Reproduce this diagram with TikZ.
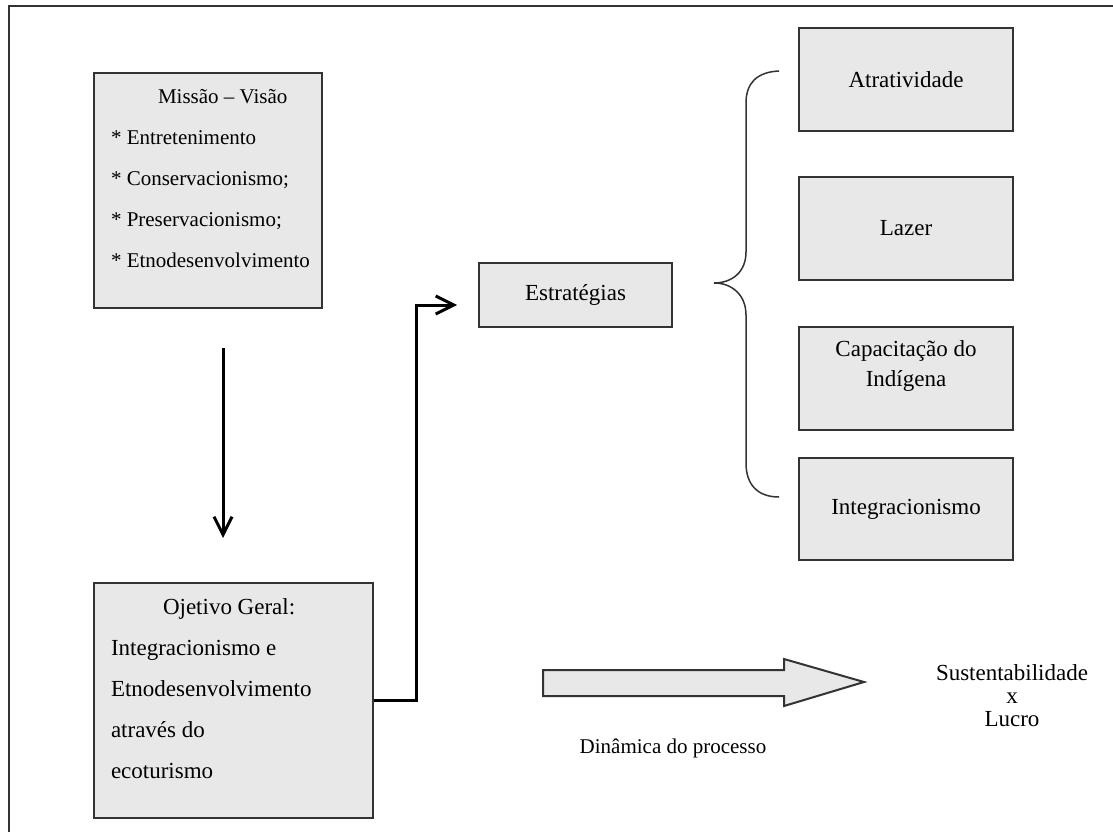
\documentclass[tikz,border=0pt]{standalone}
\usepackage{fontspec}
\setmainfont{Liberation Serif}
\usetikzlibrary{arrows.meta}
\definecolor{boxgray}{HTML}{E8E8E8}
\definecolor{edgegray}{HTML}{333333}
\tikzset{
  box/.style={draw=edgegray, line width=2pt, fill=boxgray, inner sep=0pt,
    font=\fontsize{23}{28}\selectfont},
  link/.style={line width=3pt, -{Straight Barb[length=18pt,width=18pt]}},
}
\begin{document}
\begin{tikzpicture}[x=1pt,y=-1pt]
  \useasboundingbox (0,0) rectangle (1113,832);
  % frame
  \draw[edgegray, line width=2pt] (9,832) -- (9,6) -- (1113,6);
  % left column
  \node[box, inner xsep=17pt, inner ysep=16pt] (missao) at (208,190.5)
    {\parbox[c][203pt][t]{194pt}{\raggedright\fontsize{21}{41}\selectfont
      \hspace*{47pt}Missão – Visão\\
      \mbox{* Entretenimento}\\
      \mbox{* Conservacionismo;}\\
      \mbox{* Preservacionismo;}\\
      \mbox{* Etnodesenvolvimento}}};
  \node[box, inner xsep=17pt, inner ysep=16pt] (ojetivo) at (233.5,700.5)
    {\parbox[c][203pt][t]{245pt}{\raggedright\fontsize{23}{41}\selectfont
      \hspace*{52pt}Ojetivo Geral:\\
      Integracionismo e\\
      Etnodesenvolvimento\\
      através do\\
      ecoturismo}};
  % middle
  \node[box, minimum width=193pt, minimum height=64pt] (estrategias) at (575.5,295) {Estratégias};
  % right column
  \node[box, minimum width=214pt, minimum height=103pt] (atrat) at (906,79.5) {Atratividade};
  \node[box, minimum width=214pt, minimum height=103pt] (lazer) at (906,228.5) {Lazer};
  \node[box, inner xsep=17pt, inner ysep=14pt] (capac) at (906,378.5)
    {\parbox[c][75pt][t]{180pt}{\centering\fontsize{23}{30}\selectfont
      Capacitação do\\Indígena}};
  \node[box, minimum width=214pt, minimum height=102pt] (integ) at (906,509) {Integracionismo};
  % brace
  \draw[edgegray, line width=1.5pt] (779,71) .. controls (756,72) and (746,84) .. (746,103)
    -- (746,252) .. controls (746,272) and (732,283) .. (714,283)
    .. controls (732,283) and (746,295) .. (746,315)
    -- (746,463) .. controls (746,484) and (757,497) .. (779,497);
  % connectors
  \coordinate (dn-a) at (223,348);
  \coordinate (dn-b) at (223,538);
  \draw[link] (dn-a) -- (dn-b);
  \coordinate (strat-in) at (457,305);
  \draw[link] (ojetivo.east) -- (416,700.5) |- (strat-in);
  % process arrow
  \draw[edgegray, line width=2pt, fill=boxgray] (543,670) -- (784,670) -- (784,659) -- (864,682)
    -- (784,706) -- (784,696) -- (543,696) -- cycle;
  \node[font=\fontsize{21}{24}\selectfont] (dinamica) at (673,748) {Dinâmica do processo};
  \node[align=center, font=\fontsize{23}{23}\selectfont] (result) at (1012,696)
    {Sustentabilidade\\x\\Lucro};
\end{tikzpicture}
\end{document}
